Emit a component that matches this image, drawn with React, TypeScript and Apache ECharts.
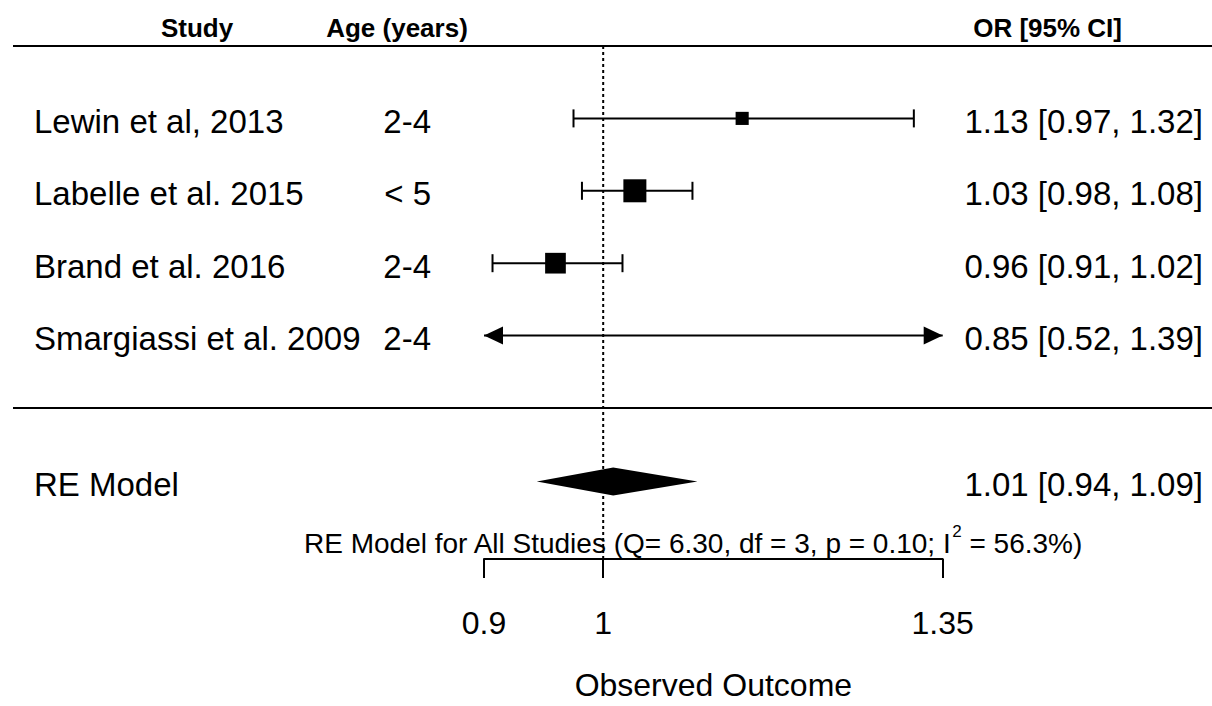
import React, { useEffect, useRef } from "react";
import * as echarts from "echarts";

// ---- data ----
const studies = ["Lewin et al, 2013", "Labelle et al. 2015", "Brand et al. 2016", "Smargiassi et al. 2009"];
const ages = ["2-4", "< 5", "2-4", "2-4"];
const studyRows = [4, 3, 2, 1];
const estimates = [1.1307, 1.0284, 0.9587, 0.85];
const lowerCI = [0.9741, 0.9814, 0.9068, 0.52];
const upperCI = [1.316, 1.0821, 1.0172, 1.39];
const relWeights = [0.57, 1.0, 0.9, 0.3];

const summaryLabel = "RE Model";
const summaryRow = -1;
const summaryEstimate = 1.0089;
const summaryLower = 0.943;
const summaryUpper = 1.0869;

const hetQ = "6.30";
const hetDf = "3";
const hetP = "0.10";
const hetI2 = "56.3%";

const tickValues = [0.9, 1, 1.35];
const refValue = 1;
const headerTexts = ["Study", "Age (years)", "OR [95% CI]"];
const separatorRows = [5, 0];
const xName = "Observed Outcome";

const FONT = '"Liberation Sans", Arial, sans-serif';
const xMin = Math.log(tickValues[0]);
const xMax = Math.log(tickValues[tickValues.length - 1]);
const yTop = 5;
const yBottom = -2.086;

const fmt = (v: number) => v.toFixed(2);

export default function App() {
  const ref = useRef<HTMLDivElement>(null);

  useEffect(() => {
    if (!ref.current) return;
    const chart = echarts.init(ref.current, undefined, { renderer: "svg" });

    const studyData = studyRows.map((r, i) => [
      r,
      Math.log(estimates[i]),
      Math.log(lowerCI[i]),
      Math.log(upperCI[i]),
      relWeights[i],
    ]);

    const textEl = (text: string, x: number, y: number, align: string, size = 33) => ({
      type: "text",
      x,
      y,
      style: {
        text,
        fill: "#000",
        fontSize: size,
        fontFamily: FONT,
        align,
        verticalAlign: "middle",
      },
    });

    const option: any = {
      animation: false,
      backgroundColor: "#fff",
      grid: { left: 484, right: 269.3, top: 46, bottom: 138.5, containLabel: false },
      xAxis: {
        type: "value",
        min: xMin,
        max: xMax,
        position: "bottom",
        splitLine: { show: false },
        axisLine: { show: true, onZero: false, lineStyle: { color: "#000", width: 2 } },
        axisTick: {
          show: true,
          customValues: tickValues.map((t) => Math.log(t)),
          length: 19,
          lineStyle: { color: "#000", width: 2 },
        },
        axisLabel: {
          customValues: tickValues.map((t) => Math.log(t)),
          formatter: (v: number) => {
            const t = tickValues.find((tv) => Math.abs(Math.log(tv) - v) < 1e-6);
            return t === undefined ? "" : String(t);
          },
          margin: 48,
          color: "#000",
          fontSize: 32,
          fontFamily: FONT,
        },
        name: xName,
        nameLocation: "middle",
        nameGap: 110,
        nameTextStyle: { color: "#000", fontSize: 32, fontFamily: FONT },
      },
      yAxis: {
        type: "value",
        min: yBottom,
        max: yTop,
        show: false,
      },
      graphic: [
        {
          type: "text",
          x: 197,
          y: 28,
          style: { text: headerTexts[0], fill: "#000", fontSize: 26, fontWeight: "bold", fontFamily: FONT, align: "center", verticalAlign: "middle" },
        },
        {
          type: "text",
          x: 397,
          y: 28,
          style: { text: headerTexts[1], fill: "#000", fontSize: 26, fontWeight: "bold", fontFamily: FONT, align: "center", verticalAlign: "middle" },
        },
        {
          type: "text",
          x: 1122,
          y: 28,
          style: { text: headerTexts[2], fill: "#000", fontSize: 26, fontWeight: "bold", fontFamily: FONT, align: "right", verticalAlign: "middle" },
        },
        {
          type: "text",
          x: 304,
          y: 543,
          style: {
            text: `{n|RE Model for All Studies (Q= ${hetQ}, df = ${hetDf}, p = ${hetP}; I}{s|2}{n| = ${hetI2})}`,
            align: "left",
            verticalAlign: "middle",
            rich: {
              n: { fontSize: 28, fontFamily: FONT, fill: "#000", lineHeight: 40 },
              s: { fontSize: 17, fontFamily: FONT, fill: "#000", lineHeight: 16, verticalAlign: "top" },
            },
          },
        },
      ],
      series: [
        {
          type: "custom",
          name: "separators",
          data: separatorRows.map((r) => [r]),
          encode: { y: 0 },
          clip: false,
          silent: true,
          renderItem: (params: any, api: any) => {
            const y = api.coord([0, api.value(0)])[1];
            return {
              type: "line",
              shape: { x1: 13, y1: y, x2: 1212, y2: y },
              style: { stroke: "#000", lineWidth: 2 },
            };
          },
        },
        {
          type: "custom",
          name: "reference",
          data: [[Math.log(refValue), yTop, yBottom]],
          encode: { x: 0, y: [1, 2] },
          clip: false,
          silent: true,
          renderItem: (params: any, api: any) => {
            const p1 = api.coord([api.value(0), api.value(1)]);
            const p2 = api.coord([api.value(0), api.value(2)]);
            return {
              type: "line",
              shape: { x1: p1[0], y1: p1[1], x2: p2[0], y2: p2[1] },
              style: { stroke: "#000", lineWidth: 2, lineDash: [3, 3] },
            };
          },
        },
        {
          type: "custom",
          name: "studies",
          data: studyData,
          encode: { x: [1, 2, 3], y: 0 },
          clip: false,
          silent: true,
          renderItem: (params: any, api: any) => {
            const i = params.dataIndex;
            const row = api.value(0);
            const est = api.value(1);
            const lo = api.value(2);
            const hi = api.value(3);
            const w = api.value(4);
            const y = api.coord([0, row])[1];
            const xl = api.coord([Math.max(lo, xMin), row])[0];
            const xr = api.coord([Math.min(hi, xMax), row])[0];
            const children: any[] = [];
            children.push({
              type: "line",
              shape: { x1: xl, y1: y, x2: xr, y2: y },
              style: { stroke: "#000", lineWidth: 2 },
            });
            if (lo < xMin) {
              children.push({
                type: "polygon",
                shape: { points: [[xl, y], [xl + 19, y - 9], [xl + 19, y + 9]] },
                style: { fill: "#000" },
              });
            } else {
              children.push({
                type: "line",
                shape: { x1: xl, y1: y - 9, x2: xl, y2: y + 9 },
                style: { stroke: "#000", lineWidth: 2 },
              });
            }
            if (hi > xMax) {
              children.push({
                type: "polygon",
                shape: { points: [[xr, y], [xr - 19, y - 9], [xr - 19, y + 9]] },
                style: { fill: "#000" },
              });
            } else {
              children.push({
                type: "line",
                shape: { x1: xr, y1: y - 9, x2: xr, y2: y + 9 },
                style: { stroke: "#000", lineWidth: 2 },
              });
            }
            if (est >= xMin && est <= xMax) {
              const xe = api.coord([est, row])[0];
              const s = 23 * w;
              children.push({
                type: "rect",
                shape: { x: xe - s / 2, y: y - s / 2, width: s, height: s },
                style: { fill: "#000" },
              });
            }
            children.push(textEl(studies[i], 34, y + 3, "left"));
            children.push(textEl(ages[i], 431, y + 3, "right"));
            children.push(
              textEl(`${fmt(estimates[i])} [${fmt(lowerCI[i])}, ${fmt(upperCI[i])}]`, 1203, y + 3, "right")
            );
            return { type: "group", children };
          },
        },
        {
          type: "custom",
          name: "summary",
          data: [[summaryRow, Math.log(summaryEstimate), Math.log(summaryLower), Math.log(summaryUpper)]],
          encode: { x: [1, 2, 3], y: 0 },
          clip: false,
          silent: true,
          renderItem: (params: any, api: any) => {
            const row = api.value(0);
            const y = api.coord([0, row])[1] + 1;
            const xe = api.coord([api.value(1), row])[0];
            const xl = api.coord([api.value(2), row])[0];
            const xr = api.coord([api.value(3), row])[0];
            return {
              type: "group",
              children: [
                {
                  type: "polygon",
                  shape: { points: [[xl, y], [xe, y - 14], [xr, y], [xe, y + 14]] },
                  style: { fill: "#000" },
                },
                textEl(summaryLabel, 34, y + 3, "left"),
                textEl(`${fmt(summaryEstimate)} [${fmt(summaryLower)}, ${fmt(summaryUpper)}]`, 1203, y + 3, "right"),
              ],
            };
          },
        },
      ],
    };

    chart.setOption(option);
    return () => {
      chart.dispose();
    };
  }, []);

  return (
    <div
      ref={ref}
      style={{ position: "fixed", left: 0, top: 0, width: 1212, height: 706, background: "#fff" }}
    />
  );
}
